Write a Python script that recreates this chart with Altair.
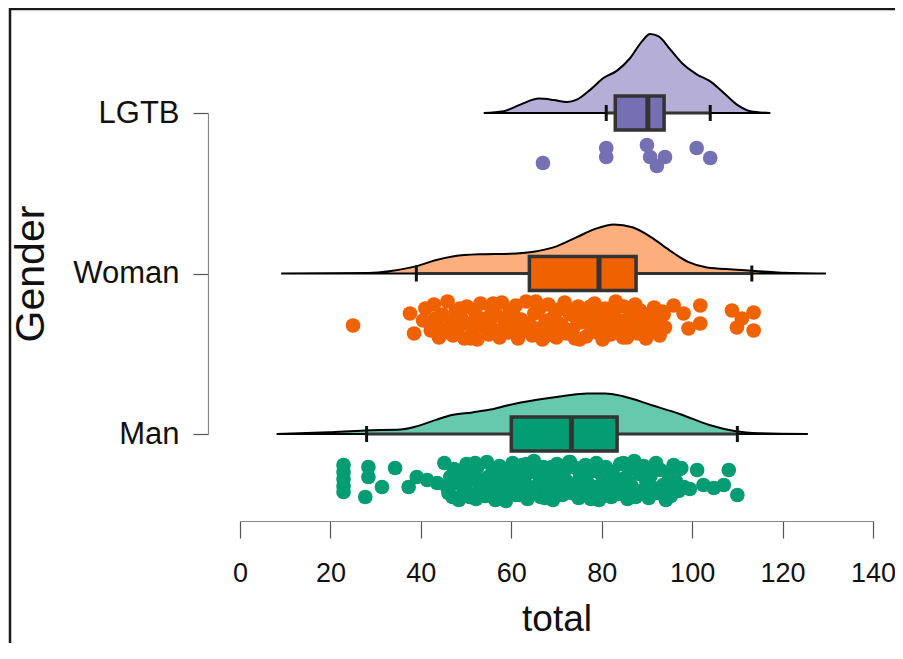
import altair as alt
import pandas as pd

# ---------------- data ----------------
categories = ["Man", "Woman", "LGTB"]

# kernel density curves (x grid, density)
lgtb_dx = [53.9, 58.3, 62.0, 66.1, 69.4, 72.3, 74.5, 77.5, 80.4, 83.4, 86.3, 88.9,
           90.7, 92.6, 95.2, 98.1, 101.1, 104.0, 107.0, 109.9, 112.9, 117.3]
lgtb_dy = [0, 0.0009, 0.0042, 0.0072, 0.0065, 0.0055, 0.0067, 0.0117, 0.0175, 0.0212,
           0.0275, 0.0358, 0.0395, 0.0383, 0.0317, 0.0242, 0.0192, 0.0158, 0.0100,
           0.0042, 0.0009, 0]

woman_dx = [9.1, 28.4, 33.4, 39.1, 43.2, 47.3, 53.1, 59.7, 64.6, 69.5, 74.5, 78.6,
            82.7, 86.8, 90.9, 95.0, 99.1, 103.3, 109.0, 113.9, 118.9, 129.6]
woman_dy = [0, 0.0003, 0.0013, 0.0037, 0.0066, 0.0086, 0.0096, 0.0099, 0.0108, 0.0132,
            0.0182, 0.0223, 0.0245, 0.0231, 0.0182, 0.0116, 0.0058, 0.0030, 0.0020,
            0.0013, 0.0005, 0]

man_dx = [8.1, 19.6, 27.6, 35.5, 38.7, 43.5, 46.6, 51.4, 55.4, 59.3, 65.7, 71.2, 76.8,
          80.8, 84.7, 91.1, 97.4, 103.8, 109.4, 114.9, 125.6]
man_dy = [0, 0.0009, 0.0018, 0.0022, 0.0036, 0.0072, 0.0094, 0.0108, 0.0122, 0.0144,
          0.0171, 0.0189, 0.0203, 0.0203, 0.0189, 0.0144, 0.0099, 0.0045, 0.0015,
          0.0004, 0]

# box plot statistics: lower whisker, Q1, median, Q3, upper whisker
box_low = [28.0, 39.0, 81.0]
box_q1 = [60.0, 64.0, 83.0]
box_med = [73.3, 79.4, 90.2]
box_q3 = [83.4, 87.6, 93.8]
box_high = [110.0, 113.2, 104.0]

# raw observations (value, jitter in -1..1)
lgtb_pts = [67.0, 81.0, 81.0, 90.0, 90.7, 92.2, 94.0, 101.0, 104.0]
lgtb_jit = [0.15, -0.6, -0.15, -0.75, -0.15, 0.3, -0.15, -0.6, -0.1]

woman_pts = [25.0, 37.6, 38.5, 40.5, 41.0,
             42.2, 42.9, 43.5, 44.0, 44.8, 45.3, 45.9, 46.6, 47.1, 47.8, 48.3, 48.9,
             49.6, 50.2, 50.7, 51.4, 52.0, 52.5, 53.2, 53.8, 54.3, 55.0, 55.6, 56.1,
             56.8, 57.4, 57.9, 58.6, 59.2, 59.7, 60.4, 61.0, 61.5, 62.2, 62.8, 63.3,
             64.0, 64.6, 65.1, 65.8, 66.4, 66.9, 67.6, 68.2, 68.7, 69.4, 70.0, 70.5,
             71.2, 71.8, 72.3, 73.0, 73.6, 74.1, 74.8, 75.4, 75.9, 76.6, 77.2, 77.7,
             78.4, 79.0, 79.5, 80.2, 80.8, 81.3, 82.0, 82.6, 83.1, 83.8, 84.4, 84.9,
             85.6, 86.2, 86.7, 87.4, 88.0, 88.5, 89.2, 89.8, 90.3, 91.0, 91.6, 92.1,
             92.8, 93.4, 94.0,
             95.9, 98.1, 99.2, 101.8, 101.8, 108.8, 111.0, 113.6, 109.9, 113.6]
woman_jit = [0.25, -0.35, 0.65, 0.0, -0.6,
             0.5, -0.8, 0.2, 0.85, -0.3, 0.6, -0.95, 0.05, 0.75, -0.5, 0.35, -0.15,
             0.9, -0.7, 0.15, 0.55, -0.4, 0.95, -0.85, 0.3, -0.1, 0.7, -0.6, 0.45,
             -0.25, 0.85, -0.9, 0.1, 0.6, -0.45, 0.3, -0.75, 0.9, -0.05, 0.5, -0.95,
             0.2, 0.75, -0.35, 0.4, -0.65, 0.95, 0.0, -0.8, 0.55, -0.2, 0.85, -0.55,
             0.25, -0.9, 0.65, -0.3, 0.45, 0.9, -0.7, 0.1, -0.45, 0.8, -0.1, 0.35,
             -0.85, 0.6, -0.25, 0.95, -0.6, 0.15, 0.7, -0.4, -0.95, 0.5, 0.05, -0.7,
             0.85, -0.2, 0.4, -0.8, 0.65, -0.5, 0.2, 0.9, -0.3, 0.55, -0.65, 0.0,
             0.75, -0.45, 0.35,
             -0.75, -0.35, 0.4, -0.75, 0.15, -0.5, -0.1, -0.4, 0.35, 0.5]
woman_pts_b = [43.2, 46.0, 48.6, 51.0, 53.5, 56.0, 58.2, 60.7, 63.0, 65.4, 67.9, 70.3,
               72.6, 75.1, 77.5, 80.0, 82.3, 84.7, 87.0, 89.5, 91.9, 93.7, 55.3, 61.8,
               69.0, 74.4, 78.8, 83.5, 88.2, 92.4]
woman_jit_b = [-0.1, 0.45, -0.6, 0.9, 0.05, -0.85, 0.6, -0.2, 0.35, -0.95, 0.75, 0.1,
               -0.45, 0.95, -0.7, 0.3, -0.15, 0.85, -0.6, 0.0, 0.5, -0.3, -0.05, 0.0,
               0.1, -0.1, 0.05, -0.05, 0.15, -0.15]

man_pts = [22.9, 22.9, 22.9, 22.9, 22.9, 28.4, 28.4, 27.7, 31.4, 34.3, 37.3, 39.1,
           41.4, 43.6,
           45.2, 45.8, 46.5, 47.0, 47.3, 47.9, 48.4, 48.8, 49.5, 50.1, 50.4, 51.0,
           51.6, 52.2, 52.5, 53.1, 53.8, 54.2, 54.6, 55.3, 55.9, 56.2, 56.8, 57.4,
           57.9, 58.3, 58.8, 59.5, 60.0, 60.3, 60.9, 61.5, 62.0, 62.4, 63.0, 63.6,
           64.1, 64.5, 65.0, 65.6, 66.2, 66.5, 67.1, 67.7, 68.0, 68.6, 69.2, 69.8,
           70.1, 70.7, 71.3, 71.6, 72.2, 72.8, 73.3, 73.7, 74.3, 74.9, 75.2, 75.8,
           76.4, 76.9, 77.3, 77.9, 78.5, 78.8, 79.4, 80.0, 80.5, 80.9, 81.5, 82.1,
           82.4, 83.0, 83.6, 84.1, 84.5, 85.1, 85.7, 86.2, 86.6, 87.2, 87.8, 88.3,
           88.7, 89.3, 89.9, 90.4, 90.8, 91.4, 92.0, 92.5, 93.0, 93.6, 94.2, 94.7,
           95.3, 95.9, 96.4, 97.0, 97.6, 98.2,
           99.5, 101.1, 102.5, 104.8, 107.0, 108.1, 110.0]
man_jit = [-0.8, -0.45, -0.1, 0.25, 0.55, -0.7, -0.2, 0.8, 0.3, -0.65, 0.3, -0.2,
           -0.05, 0.1,
           -0.9, 0.3, -0.2, 0.8, -0.6, 0.1, 0.95, -0.4, 0.5, -0.85, 0.0, 0.65,
           -0.3, 0.9, -0.7, 0.2, -0.05, 0.75, -0.95, 0.4, -0.5, 0.85, 0.15, -0.75,
           0.55, -0.15, 1.0, -0.6, 0.3, -0.9, 0.7, -0.25, 0.45, -0.8, 0.05, 0.9,
           -0.45, 0.6, -1.0, 0.25, -0.35, 0.8, -0.7, 0.1, 0.5, -0.55, 0.95, -0.1,
           -0.85, 0.35, 0.7, -0.4, 0.0, -0.95, 0.6, 0.2, -0.65, 0.85, -0.2, 0.45,
           -0.8, 0.1, 0.75, -0.5, 0.3, -0.9, 0.95, -0.3, 0.55, -0.7, 0.15, 0.8,
           -0.45, -0.05, 0.65, -0.85, 0.4, -0.15, 0.9, -0.6, 0.25, -1.0, 0.7, -0.35,
           0.5, -0.75, 0.05, 0.85, -0.25, 0.35, -0.9, 0.6, -0.55, 0.2, 0.95, -0.4,
           0.75, -0.8, 0.0, 0.5, -0.65, 0.3,
           0.4, -0.55, 0.2, 0.35, 0.2, -0.55, 0.7]
man_pts_b = [46.1, 47.6, 49.1, 50.8, 52.0, 53.4, 54.9, 56.5, 57.7, 59.0, 60.6, 61.8,
             63.3, 64.8, 66.0, 67.4, 68.9, 70.4, 71.9, 73.0, 74.6, 76.1, 77.6, 79.1,
             80.3, 81.8, 83.3, 84.8, 86.0, 87.5, 89.0, 90.1, 91.7, 93.3, 94.9, 96.1,
             97.3, 62.7, 75.5, 85.4]
man_jit_b = [0.6, -0.55, 0.05, 0.8, -0.9, 0.45, -0.2, 0.95, -0.65, 0.3, -0.05, 0.7,
             -0.85, 0.55, -0.3, 0.85, -0.7, 0.0, 0.5, -0.95, 0.4, -0.15, 0.9, -0.6,
             0.2, -0.4, 0.65, -0.9, 0.1, 0.8, -0.5, 0.35, -0.75, 0.6, -0.25, 0.15,
             -0.6, 0.0, 0.05, -0.05]

light_colors = ["#66c9ad", "#fcae7d", "#b5afd7"]
dark_colors = ["#039c73", "#f06100", "#7570b3"]

# ---------------- layout constants ----------------
W, H = 633, 321
LEFT, TOP = 232, 105
SVG_W, SVG_H = 887, 636
GAP = H / 2           # distance between groups
DENS_SCALE = 2000     # pixels per density unit
BOX_HALF = 17
CAP_HALF = 8
PT_OFFSET = 47
PT_HALF = 20

dens_rows, box_rows, pt_rows = [], [], []
for i, (g, dx, dy, px, pj) in enumerate(zip(
        categories,
        [man_dx, woman_dx, lgtb_dx],
        [man_dy, woman_dy, lgtb_dy],
        [man_pts + man_pts_b, woman_pts + woman_pts_b, lgtb_pts],
        [man_jit + man_jit_b, woman_jit + woman_jit_b, lgtb_jit])):
    base = i * GAP
    for x, d in zip(dx, dy):
        dens_rows.append({"group": g, "x": x, "y0": base, "y1": base + d * DENS_SCALE})
    for x, j in zip(px, pj):
        pt_rows.append({"group": g, "x": x, "y": base - PT_OFFSET - j * PT_HALF})
    box_rows.append({"group": g, "low": box_low[i], "q1": box_q1[i], "med": box_med[i],
                     "q3": box_q3[i], "high": box_high[i], "base": base,
                     "bt": base + BOX_HALF, "bb": base - BOX_HALF,
                     "ct": base + CAP_HALF, "cb": base - CAP_HALF})

dens = pd.DataFrame(dens_rows)
boxes = pd.DataFrame(box_rows)
pts = pd.DataFrame(pt_rows)

xscale = alt.Scale(domain=[0, 140], nice=False, zero=False)
yscale = alt.Scale(domain=[0, H], nice=False, zero=False)

xaxis = alt.Axis(values=list(range(0, 141, 20)), offset=87, tickSize=17, grid=False,
                 domainColor="#8a8a8a", tickColor="#555", domainWidth=1.2, tickWidth=1.2,
                 labelFont="Liberation Sans", labelFontSize=27, labelColor="#111",
                 labelPadding=22, labelFlush=False,
                 title="total", titleFont="Liberation Sans",
                 titleFontSize=37, titleFontWeight="normal", titleColor="#111",
                 titlePadding=15)
cat_js = "[" + ",".join("'" + c + "'" for c in categories) + "]"
yaxis = alt.Axis(values=[0, GAP, H], offset=32, tickSize=15, grid=False,
                 labelExpr=cat_js + "[round(datum.value / " + str(GAP) + ")]",
                 domainColor="#8a8a8a", tickColor="#555", domainWidth=1.2, tickWidth=1.2,
                 labelFont="Liberation Sans", labelFontSize=31, labelColor="#111",
                 labelPadding=14,
                 title="Gender", titleFont="Liberation Sans", titleFontSize=41,
                 titleFontWeight="normal", titleColor="#111", titlePadding=20)

X = lambda f: alt.X(f, type="quantitative", scale=xscale, axis=xaxis)
Y = lambda f: alt.Y(f, type="quantitative", scale=yscale, axis=yaxis)

# outer frame of the figure: top edge (rule) and left edge (thin filled bar)
one = pd.DataFrame({"a": [0]})
fx, fy = 10 - (8 + LEFT), 9 - (8 + TOP)
frame_top = alt.Chart(one).mark_rule(color="#1a1a1a", strokeWidth=2.5).encode(
    x=alt.value(fx), x2=alt.value(SVG_W - LEFT), y=alt.value(fy))
frame_left = alt.Chart(one).mark_rect(color="#1a1a1a", strokeWidth=0).encode(
    x=alt.value(fx - 1.25), x2=alt.value(fx + 1.25),
    y=alt.value(fy - 1.25), y2=alt.value(SVG_H - TOP - 1))

area = alt.Chart(dens).mark_area(stroke="black", strokeWidth=2, interpolate="monotone").encode(
    x=X("x"), y=Y("y1"), y2="y0",
    fill=alt.Fill("group:N", scale=alt.Scale(domain=categories, range=light_colors), legend=None),
    detail="group:N")

whisk = alt.Chart(boxes).mark_rule(color="#333", strokeWidth=3).encode(
    x=X("low"), x2="high", y=Y("base"))
box = alt.Chart(boxes).mark_rect(stroke="#333", strokeWidth=3.5).encode(
    x=X("q1"), x2="q3", y=Y("bt"), y2="bb",
    color=alt.Color("group:N", scale=alt.Scale(domain=categories, range=dark_colors), legend=None))
med = alt.Chart(boxes).mark_rule(color="#333", strokeWidth=5).encode(
    x=X("med"), y=Y("bt"), y2="bb")
cap_lo = alt.Chart(boxes).mark_rule(color="#111", strokeWidth=3).encode(
    x=X("low"), y=Y("ct"), y2="cb")
cap_hi = alt.Chart(boxes).mark_rule(color="#111", strokeWidth=3).encode(
    x=X("high"), y=Y("ct"), y2="cb")

points = alt.Chart(pts).mark_circle(size=215, opacity=1).encode(
    x=X("x"), y=Y("y"),
    color=alt.Color("group:N", scale=alt.Scale(domain=categories, range=dark_colors), legend=None))

chart = alt.layer(frame_top, frame_left, area, whisk, box, med, cap_lo, cap_hi, points).properties(
    width=W, height=H,
    autosize=alt.AutoSizeParams(type="none"),
    padding={"left": LEFT, "top": TOP, "right": SVG_W - LEFT - W, "bottom": SVG_H - TOP - H},
    background="white",
).configure_view(stroke=None)

chart.save("out.html", embed_options={"renderer": "svg", "actions": False})
